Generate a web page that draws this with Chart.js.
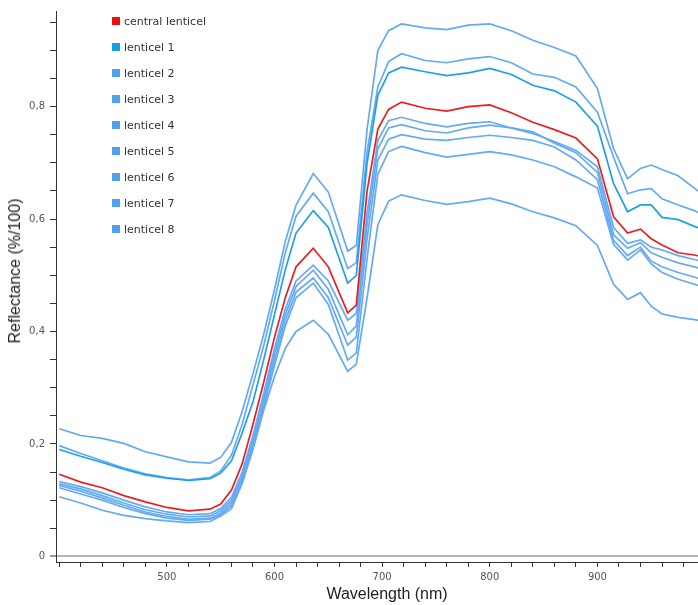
<!DOCTYPE html>
<html>
<head>
<meta charset="utf-8">
<title>Lenticel reflectance</title>
<script src="https://cdn.jsdelivr.net/npm/chart.js@4"></script>
<style>
  html, body { margin: 0; padding: 0; background: #fff; }
  #wrap { position: relative; width: 698px; height: 605px; overflow: hidden; }
  #chart { position: absolute; left: 0; top: 0; }
  #ytitle {
    position: absolute; left: 15px; top: 271px;
    transform: translate(-50%, -50%) rotate(-90deg);
    font: 16px "Liberation Sans", Arial, sans-serif; color: #222; white-space: nowrap;
  }
  #legend { position: absolute; left: 112px; top: 8px; font: 11px "DejaVu Sans", sans-serif; color: #333; }
  #legend div { height: 26px; display: flex; align-items: center; }
  #legend span.box { display: inline-block; width: 8px; height: 8px; margin-right: 4px; }
</style>
</head>
<body>
<div id="wrap">
  <canvas id="chart" width="720" height="605"></canvas>
  <div id="ytitle">Reflectance (%/100)</div>
  <div id="legend"></div>
</div>
<script>
// wavelengths (nm)
const wavelengths = [400, 420, 440, 460, 480, 500, 520, 540,
  550, 560, 570, 580, 590, 600, 610, 620,
  636, 650, 668, 676,
  686, 696, 706, 718,
  740, 760, 780, 800, 820, 840, 860, 880, 900,
  915, 928, 940, 950, 960, 975, 990, 1000];

// reflectance values (%/100)
const central = [0.146, 0.132, 0.122, 0.108, 0.097, 0.087, 0.081, 0.084,
  0.093, 0.118, 0.165, 0.235, 0.31, 0.39, 0.46, 0.515,
  0.548, 0.515, 0.433, 0.447,
  0.65, 0.76, 0.795, 0.808,
  0.797, 0.792, 0.800, 0.803, 0.789, 0.772, 0.759, 0.744, 0.707,
  0.604, 0.575, 0.582, 0.565, 0.554, 0.540, 0.536, 0.532];
const lenticel1 = [0.19, 0.178, 0.167, 0.155, 0.145, 0.139, 0.135, 0.138,
  0.148, 0.17, 0.22, 0.275, 0.35, 0.43, 0.51, 0.575,
  0.615, 0.585, 0.486, 0.5,
  0.70, 0.82, 0.86, 0.87,
  0.862, 0.855, 0.86, 0.868, 0.857, 0.838, 0.828, 0.808, 0.765,
  0.663, 0.613, 0.625, 0.625, 0.603, 0.599, 0.587, 0.58];
const lenticel2 = [0.227, 0.215, 0.21, 0.201, 0.186, 0.177, 0.168, 0.166,
  0.176, 0.203, 0.258, 0.325, 0.395, 0.475, 0.56, 0.625,
  0.681, 0.648, 0.543, 0.553,
  0.76, 0.9, 0.935, 0.947,
  0.94, 0.937, 0.945, 0.947, 0.935, 0.918, 0.905, 0.89, 0.832,
  0.725, 0.672, 0.69, 0.696, 0.688, 0.677, 0.655, 0.64];
const lenticel3 = [0.197, 0.183, 0.17, 0.157, 0.147, 0.14, 0.136, 0.14,
  0.152, 0.18, 0.235, 0.305, 0.375, 0.455, 0.54, 0.605,
  0.646, 0.613, 0.512, 0.522,
  0.72, 0.835, 0.88, 0.894,
  0.882, 0.878, 0.885, 0.889, 0.878, 0.858, 0.852, 0.835, 0.79,
  0.71, 0.645, 0.652, 0.654, 0.636, 0.625, 0.615, 0.605];
const lenticel4 = [0.133, 0.124, 0.113, 0.1, 0.088, 0.079, 0.074, 0.076,
  0.085, 0.105, 0.15, 0.215, 0.29, 0.37, 0.44, 0.49,
  0.518, 0.49, 0.42, 0.432,
  0.61, 0.74, 0.775, 0.781,
  0.77, 0.764, 0.77, 0.773, 0.762, 0.752, 0.738, 0.722, 0.693,
  0.585, 0.557, 0.563, 0.55, 0.545, 0.535, 0.528, 0.524];
const lenticel5 = [0.129, 0.12, 0.108, 0.095, 0.083, 0.075, 0.07, 0.072,
  0.081, 0.1, 0.143, 0.207, 0.28, 0.36, 0.43, 0.48,
  0.509, 0.475, 0.394, 0.41,
  0.59, 0.725, 0.762, 0.768,
  0.757, 0.753, 0.762, 0.767, 0.762, 0.755, 0.735, 0.718, 0.683,
  0.572, 0.548, 0.558, 0.54, 0.532, 0.522, 0.515, 0.51];
const lenticel6 = [0.126, 0.116, 0.104, 0.091, 0.079, 0.071, 0.066, 0.068,
  0.077, 0.095, 0.138, 0.2, 0.272, 0.35, 0.42, 0.47,
  0.495, 0.46, 0.376, 0.39,
  0.565, 0.705, 0.742, 0.75,
  0.742, 0.74, 0.745, 0.749, 0.745, 0.74, 0.728, 0.705, 0.67,
  0.562, 0.535, 0.55, 0.525, 0.515, 0.505, 0.497, 0.49];
const lenticel7 = [0.122, 0.111, 0.1, 0.087, 0.076, 0.068, 0.064, 0.066,
  0.074, 0.09, 0.132, 0.195, 0.265, 0.34, 0.41, 0.46,
  0.486, 0.448, 0.349, 0.362,
  0.53, 0.68, 0.72, 0.729,
  0.718, 0.71, 0.715, 0.72, 0.714, 0.705, 0.693, 0.675, 0.655,
  0.555, 0.527, 0.545, 0.52, 0.505, 0.493, 0.484, 0.478];
const lenticel8 = [0.106, 0.095, 0.082, 0.073, 0.067, 0.063, 0.06, 0.062,
  0.072, 0.085, 0.13, 0.19, 0.26, 0.32, 0.37, 0.4,
  0.42, 0.395, 0.329, 0.342,
  0.46, 0.59, 0.632, 0.643,
  0.633, 0.626, 0.631, 0.637, 0.627, 0.613, 0.602, 0.588, 0.553,
  0.484, 0.457, 0.469, 0.445, 0.431, 0.425, 0.421, 0.418];

const seriesNames = ['central lenticel', 'lenticel 1', 'lenticel 2', 'lenticel 3', 'lenticel 4',
  'lenticel 5', 'lenticel 6', 'lenticel 7', 'lenticel 8'];
const seriesValues = [central, lenticel1, lenticel2, lenticel3, lenticel4,
  lenticel5, lenticel6, lenticel7, lenticel8];

const RED = 'rgb(235, 30, 30)';
const BLUE = 'rgb(30, 160, 232)';
const LIGHT = 'rgb(100, 170, 242)';
const boxColors = ['rgb(238, 16, 16)', 'rgb(18, 160, 234)', 'rgb(80, 160, 238)'];

function colorFor(i) {
  if (i === 0) return RED;
  if (i === 1) return BLUE;
  return LIGHT;
}

const datasets = seriesValues.map((vals, i) => ({
  label: seriesNames[i],
  data: wavelengths.map((w, j) => ({ x: w, y: vals[j] })),
  borderColor: colorFor(i),
  backgroundColor: colorFor(i),
  borderWidth: 1.7,
  fill: false,
  pointRadius: 0,
  pointHoverRadius: 0,
  tension: 0,
}));

const ctx = document.getElementById('chart').getContext('2d');
const chart = new Chart(ctx, {
  type: 'line',
  data: { datasets: datasets },
  options: {
    responsive: false,
    animation: false,
    layout: { padding: { top: 10, right: 2, left: 0, bottom: 0 } },
    plugins: {
      legend: { display: false },
      tooltip: { enabled: false },
    },
    scales: {
      x: {
        type: 'linear',
        min: 397,
        max: 1012,
        afterFit: scale => { scale.height = 43; },
        ticks: {
          stepSize: 20,
          includeBounds: false,
          autoSkip: false,
          maxRotation: 0,
          padding: 4,
          color: '#555',
          font: { family: 'DejaVu Sans', size: 10 },
          // only the hundreds that show in the picture get a label
          callback: v => (v % 100 === 0 && v >= 500 && v < 1000) ? String(v) : '',
        },
        grid: { drawOnChartArea: false, tickLength: 5, tickColor: '#333', tickWidth: 1 },
        border: { display: true, color: '#333', width: 1 },
        title: {
          display: true,
          text: 'Wavelength (nm)',
          color: '#222',
          font: { family: 'Liberation Sans', size: 16 },
          padding: { top: 0, bottom: 1 },
        },
      },
      y: {
        min: -0.01,
        max: 0.97,
        afterFit: scale => { scale.width = 56; },
        ticks: {
          stepSize: 0.05,
          includeBounds: false,
          autoSkip: false,
          padding: 5,
          color: '#555',
          font: { family: 'DejaVu Sans', size: 10 },
          callback: v => {
            const k = Math.round(v / 0.2);
            if (Math.abs(v - k * 0.2) > 1e-6) return '';
            return k === 0 ? '0' : (k * 0.2).toFixed(1).replace('.', ',');
          },
        },
        grid: {
          drawOnChartArea: true,
          color: c => (c.tick && c.tick.value === 0) ? '#b4b4b4' : 'rgba(0,0,0,0)',
          lineWidth: c => (c.tick && c.tick.value === 0) ? 2 : 1,
          tickLength: 6,
          tickColor: '#333',
          tickWidth: 1,
        },
        border: { display: true, color: '#333', width: 1 },
      },
    },
  },
});

// legend in the upper left corner of the plot
const legend = document.getElementById('legend');
seriesNames.forEach((name, i) => {
  const row = document.createElement('div');
  const box = document.createElement('span');
  box.className = 'box';
  box.style.background = boxColors[Math.min(i, 2)];
  row.appendChild(box);
  row.appendChild(document.createTextNode(name));
  legend.appendChild(row);
});
</script>
</body>
</html>
